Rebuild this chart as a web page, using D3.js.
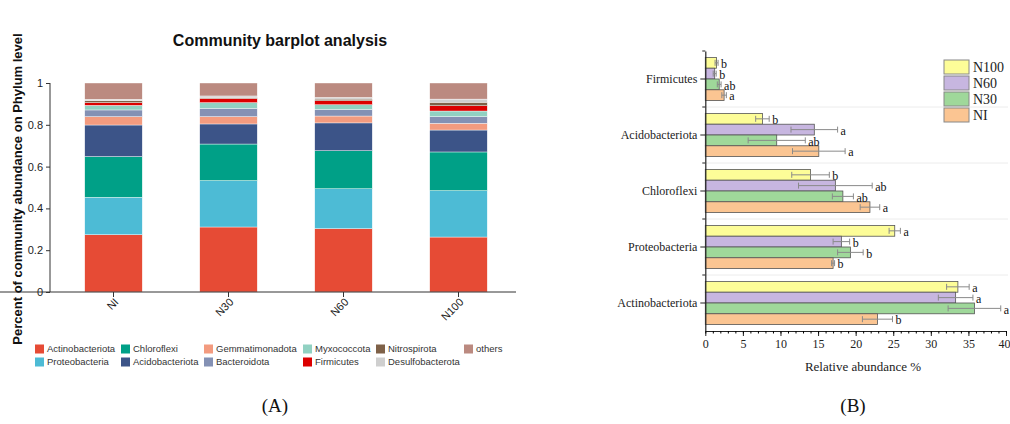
<!DOCTYPE html>
<html>
<head>
<meta charset="utf-8">
<script src="https://cdn.jsdelivr.net/npm/d3@7"></script>
<style>
  body { margin: 0; background: #fff; }
  svg { display: block; }
</style>
</head>
<body>
<svg id="chart" width="1010" height="424"></svg>
<script>
// *** Data ***

// panel A: community composition (fraction of reads)
var samples = ["NI", "N30", "N60", "N100"];
var phyla = ["Actinobacteriota", "Proteobacteria", "Chloroflexi", "Acidobacteriota", "Gemmatimonadota",
             "Bacteroidota", "Myxococcota", "Firmicutes", "Nitrospirota", "Desulfobacterota", "others"];
var phylumColors = ["#E64B35", "#4DBBD5", "#00A087", "#3C5488", "#F39B7F",
                    "#8491B4", "#91D1C2", "#DC0000", "#7E6148", "#CFCFCF", "#BB8A80"];
// one array per sample, in phyla order
var abundNI   = [0.274, 0.179, 0.195, 0.151, 0.040, 0.032, 0.022, 0.013, 0.009, 0.007, 0.078];
var abundN30  = [0.311, 0.222, 0.175, 0.096, 0.035, 0.040, 0.027, 0.020, 0.005, 0.007, 0.062];
var abundN60  = [0.303, 0.191, 0.182, 0.133, 0.033, 0.032, 0.022, 0.019, 0.008, 0.008, 0.069];
var abundN100 = [0.263, 0.222, 0.185, 0.105, 0.032, 0.032, 0.027, 0.025, 0.017, 0.015, 0.077];
var yTicksA = [0, 0.2, 0.4, 0.6, 0.8, 1];
// legend order as printed (two rows, column by column)
var legendOrder = ["Actinobacteriota", "Proteobacteria", "Chloroflexi", "Acidobacteriota",
                   "Gemmatimonadota", "Bacteroidota", "Myxococcota", "Firmicutes",
                   "Nitrospirota", "Desulfobacterota", "others"];

// panel B: relative abundance % of main phyla
var groupsB = ["Firmicutes", "Acidobacteriota", "Chloroflexi", "Proteobacteria", "Actinobacteriota"];
var treatments = ["N100", "N60", "N30", "NI"];
var treatColors = ["#FDFD98", "#C7B6E0", "#9FD89A", "#FBC592"];
// values per treatment, in groupsB order
var meanN100 = [1.5, 7.6, 14.0, 25.2, 33.6];
var meanN60  = [1.25, 14.5, 17.3, 18.1, 33.3];
var meanN30  = [1.85, 9.5, 18.3, 19.3, 35.8];
var meanNI   = [2.5, 15.1, 21.9, 17.0, 22.9];
var errN100 = [0.2, 0.9, 2.5, 0.75, 1.5];
var errN60  = [0.2, 3.1, 4.9, 1.1, 2.3];
var errN30  = [0.25, 3.8, 1.4, 1.7, 3.5];
var errNI   = [0.3, 3.5, 1.3, 0.2, 2.0];
var letN100 = ["b", "b", "b", "a", "a"];
var letN60  = ["b", "a", "ab", "b", "a"];
var letN30  = ["ab", "ab", "ab", "b", "a"];
var letNI   = ["a", "a", "a", "b", "b"];
var xTicksB = [0, 5, 10, 15, 20, 25, 30, 35, 40];

var svg = d3.select("#chart");

// *** Panel A: stacked bars ***

var abund = [abundNI, abundN30, abundN60, abundN100];
var rowsA = samples.map(function (s, i) {
  var row = {sample: s};
  phyla.forEach(function (p, j) { row[p] = abund[i][j]; });
  return row;
});
var stackA = d3.stack().keys(phyla)(rowsA);

var xA = d3.scaleBand().domain(samples).range([56, 516]).paddingInner(0.5).paddingOuter(0.25);
var yA = d3.scaleLinear().domain([0, 1]).range([292, 83]);
var colorA = d3.scaleOrdinal().domain(phyla).range(phylumColors);

var gA = svg.append("g");

gA.append("text")
  .attr("x", 280).attr("y", 46)
  .attr("text-anchor", "middle")
  .style("font", "bold 16px 'Liberation Sans', Arial, sans-serif")
  .attr("fill", "#111")
  .text("Community barplot analysis");

gA.append("g").selectAll("g")
  .data(stackA).enter().append("g")
  .attr("fill", d => colorA(d.key))
  .selectAll("rect")
  .data(d => d).enter().append("rect")
  .attr("x", d => xA(d.data.sample))
  .attr("width", xA.bandwidth())
  .attr("y", d => yA(d[1]))
  .attr("height", d => yA(d[0]) - yA(d[1]))
  .attr("stroke", "#fff")
  .attr("stroke-width", 0.4);

var yAxisA = gA.append("g")
  .attr("transform", "translate(50,0)")
  .call(d3.axisLeft(yA).tickValues(yTicksA).tickSize(4).tickFormat(d3.format("")));
var xAxisA = gA.append("g")
  .attr("transform", "translate(0,292)")
  .call(d3.axisBottom(xA).tickSize(5));

[yAxisA, xAxisA].forEach(function (ax) {
  ax.select(".domain").attr("stroke", "#333");
  ax.selectAll(".tick line").attr("stroke", "#333");
  ax.selectAll("text").style("font", "11px 'Liberation Sans', Arial, sans-serif").attr("fill", "#222");
});
yAxisA.select(".domain").attr("d", "M0," + yA(1) + "V" + yA(0));
xAxisA.select(".domain").attr("d", "M-6,0H516");
xAxisA.selectAll("text")
  .attr("text-anchor", "end")
  .attr("transform", "translate(3,8) rotate(-45)")
  .attr("dy", "0.35em")
  .attr("y", 0).attr("x", 0);

gA.append("text")
  .attr("transform", "translate(22,189) rotate(-90)")
  .attr("text-anchor", "middle")
  .style("font", "bold 13px 'Liberation Sans', Arial, sans-serif")
  .attr("fill", "#111")
  .text("Percent of community abundance on Phylum level");

// legend: 6 columns x 2 rows
var legendColX = [35, 121, 204, 303, 376, 464];
var legendRowY = [349, 362];
var legA = gA.append("g").selectAll("g")
  .data(legendOrder).enter().append("g")
  .attr("transform", function (d, i) {
    var col = Math.floor(i / 2), row = i % 2;
    if (d === "others") { col = 5; row = 0; }
    return "translate(" + legendColX[col] + "," + legendRowY[row] + ")";
  });
legA.append("rect").attr("x", 0).attr("y", -4.5).attr("width", 9).attr("height", 9)
  .attr("fill", d => colorA(d));
legA.append("text").attr("x", 12).attr("y", 0).attr("dy", "0.35em")
  .style("font", "9.5px 'Liberation Sans', Arial, sans-serif")
  .attr("fill", "#333")
  .text(d => d);

gA.append("text")
  .attr("x", 275).attr("y", 412)
  .attr("text-anchor", "middle")
  .style("font", "19px 'Liberation Serif', 'Times New Roman', serif")
  .attr("fill", "#111")
  .text("(A)");

// *** Panel B: grouped horizontal bars ***

var means = [meanN100, meanN60, meanN30, meanNI];
var errs = [errN100, errN60, errN30, errNI];
var lets = [letN100, letN60, letN30, letNI];
var rowsB = [];
groupsB.forEach(function (g, i) {
  treatments.forEach(function (t, j) {
    rowsB.push({group: g, treat: t, color: treatColors[j], mean: means[j][i], err: errs[j][i], letter: lets[j][i]});
  });
});

var xB = d3.scaleLinear().domain([0, 40]).range([705.3, 1006]);
var yB = d3.scaleBand().domain(groupsB).range([51, 331]).paddingInner(0.23).paddingOuter(0.115);
var yInner = d3.scaleBand().domain(treatments).range([0, yB.bandwidth()]);

var gB = svg.append("g");

// faint separators between groups
var seps = groupsB.slice(1).map(g => yB(g) - yB.step() * yB.paddingInner() / 2);
gB.append("g").selectAll("line")
  .data(seps).enter().append("line")
  .attr("x1", xB(0)).attr("x2", 1008)
  .attr("y1", d => d).attr("y2", d => d)
  .attr("stroke", "#ececec").attr("stroke-width", 1);

gB.append("g").selectAll("rect")
  .data(rowsB).enter().append("rect")
  .attr("x", xB(0))
  .attr("y", d => yB(d.group) + yInner(d.treat))
  .attr("width", d => xB(d.mean) - xB(0))
  .attr("height", yInner.bandwidth())
  .attr("fill", d => d.color)
  .attr("stroke", "#555")
  .attr("stroke-width", 0.8);

var eb = gB.append("g").selectAll("g")
  .data(rowsB).enter().append("g")
  .attr("transform", d => "translate(0," + (yB(d.group) + yInner(d.treat) + yInner.bandwidth() / 2) + ")")
  .attr("stroke", "#8a8a8a").attr("stroke-width", 1);
eb.append("line").attr("x1", d => xB(d.mean - d.err)).attr("x2", d => xB(d.mean + d.err)).attr("y1", 0).attr("y2", 0);
eb.append("line").attr("x1", d => xB(d.mean - d.err)).attr("x2", d => xB(d.mean - d.err)).attr("y1", -3).attr("y2", 3);
eb.append("line").attr("x1", d => xB(d.mean + d.err)).attr("x2", d => xB(d.mean + d.err)).attr("y1", -3).attr("y2", 3);

gB.append("g").selectAll("text")
  .data(rowsB).enter().append("text")
  .attr("x", d => xB(d.mean + d.err) + 3)
  .attr("y", d => yB(d.group) + yInner(d.treat) + yInner.bandwidth() / 2 + 1)
  .attr("dy", "0.35em")
  .style("font", "12px 'Liberation Serif', 'Times New Roman', serif")
  .attr("fill", "#111")
  .text(d => d.letter);

var xAxisB = gB.append("g")
  .attr("transform", "translate(0,331)")
  .call(d3.axisBottom(xB).tickValues(xTicksB).tickSize(5).tickSizeOuter(0));
gB.append("g")
  .attr("transform", "translate(0,331)")
  .call(d3.axisBottom(xB).ticks(40).tickSize(2.5).tickFormat("").tickSizeOuter(0))
  .select(".domain").remove();
var yAxisB = gB.append("g")
  .attr("transform", "translate(" + xB(0) + ",0)")
  .call(d3.axisLeft(yB).tickSize(5).tickSizeOuter(0));
// small ticks at group boundaries
gB.append("g").selectAll("line")
  .data(seps.concat([51])).enter().append("line")
  .attr("x1", xB(0) - 3).attr("x2", xB(0))
  .attr("y1", d => d).attr("y2", d => d)
  .attr("stroke", "#222");

[xAxisB, yAxisB].forEach(function (ax) {
  ax.select(".domain").attr("stroke", "#222").attr("stroke-width", 1.2);
  ax.selectAll(".tick line").attr("stroke", "#222");
  ax.selectAll("text").style("font", "12px 'Liberation Serif', 'Times New Roman', serif").attr("fill", "#222");
});
yAxisB.selectAll("text").attr("x", -8);
xAxisB.selectAll("text").attr("y", 8);
// last tick label sits at the right edge
xAxisB.selectAll(".tick text").filter(d => d === 40).attr("text-anchor", "end").attr("x", 4);

gB.append("text")
  .attr("x", 863).attr("y", 371)
  .attr("text-anchor", "middle")
  .style("font", "13px 'Liberation Serif', 'Times New Roman', serif")
  .attr("fill", "#222")
  .text("Relative abundance %");

var legB = gB.append("g").selectAll("g")
  .data(treatments).enter().append("g")
  .attr("transform", (d, i) => "translate(944," + (60 + i * 16) + ")");
legB.append("rect").attr("width", 25).attr("height", 14)
  .attr("fill", (d, i) => treatColors[i])
  .attr("stroke", "#888").attr("stroke-width", 1);
legB.append("text").attr("x", 29).attr("y", 7).attr("dy", "0.35em")
  .style("font", "14px 'Liberation Serif', 'Times New Roman', serif")
  .attr("fill", "#222")
  .text(d => d);

gB.append("text")
  .attr("x", 853).attr("y", 412)
  .attr("text-anchor", "middle")
  .style("font", "19px 'Liberation Serif', 'Times New Roman', serif")
  .attr("fill", "#111")
  .text("(B)");
</script>
</body>
</html>
